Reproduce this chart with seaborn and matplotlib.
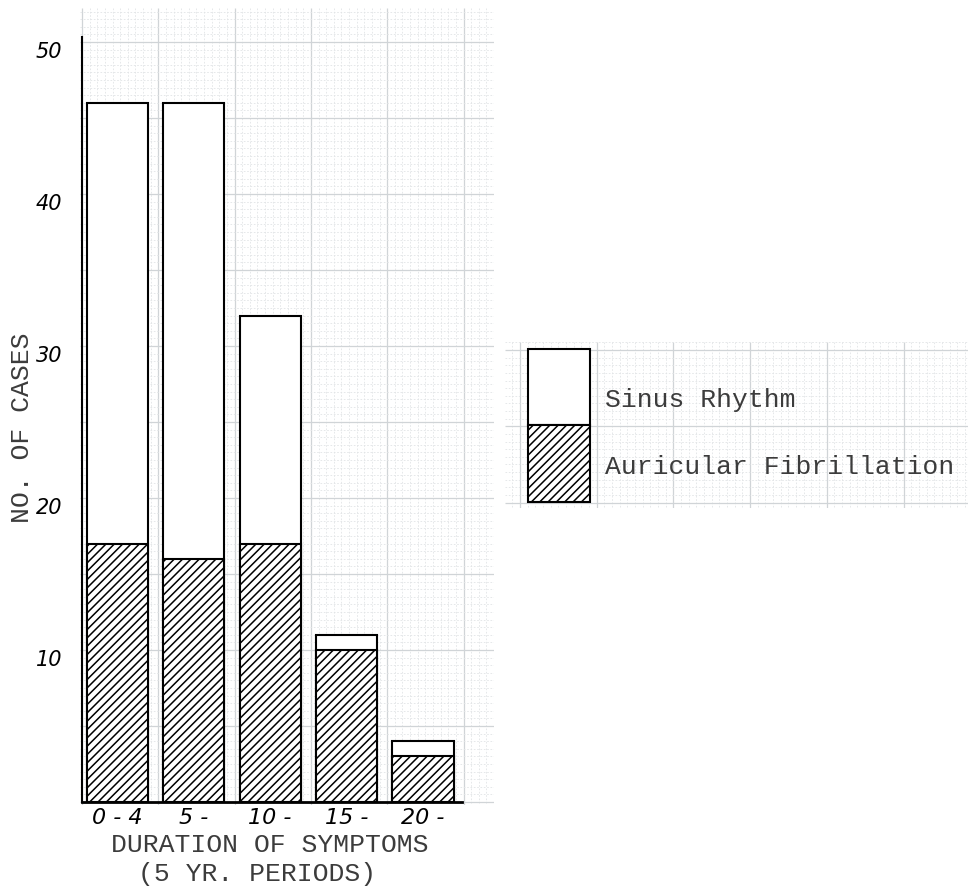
import numpy as np
import pandas as pd
import matplotlib
matplotlib.use("Agg")
import matplotlib.pyplot as plt
import seaborn as sns
from matplotlib.patches import Rectangle
from matplotlib.transforms import ScaledTranslation

# Cases by duration of symptoms (5-year periods)
periods = ["0 - 4", "5 -", "10 -", "15 -", "20 -"]
auricular_fibrillation = [17, 16, 17, 10, 3]
sinus_rhythm = [29, 30, 15, 1, 1]
y_ticks = [10, 20, 30, 40, 50]

total_cases = [a + s for a, s in zip(auricular_fibrillation, sinus_rhythm)]
df = pd.DataFrame({
    "period": periods,
    "af": auricular_fibrillation,
    "total": total_cases,
})

sns.set_theme(style="white")
plt.rcParams["hatch.linewidth"] = 1.1
plt.rcParams["hatch.color"] = "black"

TYPED = "Liberation Mono"
HAND = "DejaVu Sans"
TYPED_COLOR = "#3c3c3c"
HATCH = "////"

W, H = 968, 891
fig = plt.figure(figsize=(W / 100, H / 100), dpi=100)
fig.patch.set_facecolor("white")


def px_axes(x0, y0, x1, y1, **kw):
    """Axes placed by pixel box, origin at the top-left of the figure."""
    return fig.add_axes([x0 / W, 1 - y1 / H, (x1 - x0) / W, (y1 - y0) / H], **kw)


def graph_paper(ax, x0, x1, y0, y1, xref, yref, sx, sy):
    """Fill an axes (in pixel units) with a ruled graph-paper pattern."""
    ax.set_xlim(x0, x1)
    ax.set_ylim(y1, y0)
    ax.axis("off")
    minor_kw = dict(color="#e2e4e6", lw=0.6, linestyle=(0, (2, 2)))
    major_kw = dict(color="#d0d4d7", lw=0.9)
    kx = np.arange(np.floor((x0 - xref) / sx * 10), np.ceil((x1 - xref) / sx * 10) + 1)
    for k in kx:
        x = xref + k * sx / 10
        if x0 <= x <= x1:
            ax.vlines(x, y0, y1, **(major_kw if k % 10 == 0 else minor_kw))
    ky = np.arange(np.floor((y0 - yref) / sy * 10), np.ceil((y1 - yref) / sy * 10) + 1)
    for k in ky:
        y = yref + k * sy / 10
        if y0 <= y <= y1:
            ax.hlines(y, x0, x1, **(major_kw if k % 10 == 0 else minor_kw))


# Graph paper behind the chart
paper = px_axes(80, 8, 494, 805)
graph_paper(paper, 80, 494, 8, 805, xref=82, yref=802, sx=76.3, sy=76.0)

# Main chart
ax = px_axes(82, 37.4, 462, 802)
ax.patch.set_visible(False)

sns.barplot(data=df, x="period", y="total", color="white", saturation=1,
            edgecolor="black", linewidth=1.5, width=0.8, ax=ax)
sns.barplot(data=df, x="period", y="af", color="white", saturation=1,
            edgecolor="black", linewidth=1.5, width=0.8, hatch=HATCH, ax=ax)

ax.set_xlim(-0.46, 4.51)
ax.set_ylim(0, 50.3)
ax.set_xlabel("")
ax.set_ylabel("")

for side in ("top", "right"):
    ax.spines[side].set_visible(False)
ax.spines["left"].set_linewidth(1.5)
ax.spines["bottom"].set_linewidth(2)
ax.spines["left"].set_color("black")
ax.spines["bottom"].set_color("black")

ax.set_yticks(y_ticks)
ax.set_yticklabels([str(v) for v in y_ticks], family=HAND, fontstyle="oblique",
                   fontsize=15, color="black")
ax.tick_params(axis="y", length=0, pad=14)
shift = ScaledTranslation(0, -8 / 100, fig.dpi_scale_trans)
for lab in ax.get_yticklabels():
    lab.set_transform(lab.get_transform() + shift)

ax.set_xticks(range(len(periods)))
ax.set_xticklabels(periods, family=HAND, fontstyle="oblique", fontsize=16,
                   color="black")
ax.tick_params(axis="x", length=0, pad=4)

# Axis titles in typewriter lettering
fig.text(22 / W, 1 - 428 / H, "NO. OF CASES", rotation=90, ha="center",
         va="center", family=TYPED, fontsize=19, color=TYPED_COLOR)
fig.text(270 / W, 1 - 845 / H, "DURATION OF SYMPTOMS", ha="center",
         va="center", family=TYPED, fontsize=19, color=TYPED_COLOR)
fig.text(257 / W, 1 - 874 / H, "(5 YR. PERIODS)", ha="center",
         va="center", family=TYPED, fontsize=19, color=TYPED_COLOR)

# Key on its own strip of graph paper
key = px_axes(505, 342, 968, 508)
graph_paper(key, 505, 968, 342, 508, xref=520, yref=350, sx=76.7, sy=76.3)
key.add_patch(Rectangle((528, 349), 62, 76, facecolor="white",
                        edgecolor="black", lw=1.5, zorder=3))
key.add_patch(Rectangle((528, 425), 62, 77, facecolor="white",
                        edgecolor="black", lw=1.5, hatch=HATCH, zorder=3))
key.text(605, 400, "Sinus Rhythm", ha="left", va="center", family=TYPED,
         fontsize=19, color=TYPED_COLOR, zorder=4)
key.text(605, 467, "Auricular Fibrillation", ha="left", va="center",
         family=TYPED, fontsize=19, color=TYPED_COLOR, zorder=4)

fig.savefig("out.png", dpi=100, facecolor="white")
